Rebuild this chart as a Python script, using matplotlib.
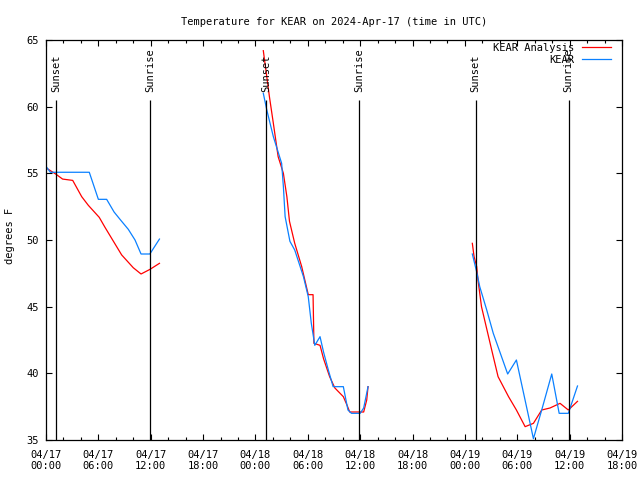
import numpy as np
import matplotlib
matplotlib.use("Agg")
import matplotlib.pyplot as plt
import matplotlib.dates as mdates
import pandas as pd

# hours since 2024-04-17 00:00 UTC; nan breaks the line between nights
analysis_hours = [0.08, 1.15, 1.9, 3.06, 4.09, 4.85, 6.1, 6.76, 8.67, 10.0, 10.89, 11.92, 13.0, np.nan,
                  24.9, 25.6, 26.05, 26.6, 27.2, 27.6, 27.9, 28.5, 29.3, 30.05, 30.6, 30.7, 31.4, 31.8,
                  32.5, 33.1, 34.07, 34.5, 34.8, 35.4, 36.4, 36.75, 36.9, np.nan,
                  48.85, 49.05, 49.35, 49.5, 49.9, 51.07, 51.8, 53.0, 53.9, 54.9, 55.85, 56.8, 57.75,
                  58.9, 59.85, 60.9]
analysis_temp = [55.38, 54.93, 54.57, 54.47, 53.25, 52.6, 51.7, 50.95, 48.88, 47.92, 47.45, 47.8, 48.25, np.nan,
                 64.2, 60.75, 58.75, 56.25, 55.0, 53.25, 51.4, 49.75, 48.0, 45.9, 45.9, 42.25, 42.1, 41.1,
                 39.75, 38.9, 38.25, 37.6, 37.1, 37.1, 37.1, 38.0, 39.0, np.nan,
                 49.75, 48.75, 48.0, 47.0, 45.0, 41.75, 39.75, 38.25, 37.25, 36.0, 36.25, 37.25, 37.4,
                 37.75, 37.25, 37.9]

obs_hours = [0.08, 0.5, 4.96, 6.0, 6.95, 7.8, 8.48, 9.43, 10.2, 10.89, 11.9, 13.0, np.nan,
             24.9, 25.3, 26.05, 27.0, 27.2, 27.4, 27.95, 28.5, 29.5, 30.05, 30.4, 30.8, 31.4, 31.8,
             32.35, 32.9, 34.07, 34.4, 34.6, 35.0, 36.0, 36.4, 36.9, np.nan,
             48.85, 49.35, 49.7, 50.5, 51.25, 52.9, 53.9, 55.85, 56.8, 57.95, 58.8, 59.85, 60.9]
obs_temp = [55.45, 55.08, 55.08, 53.05, 53.05, 52.1, 51.55, 50.8, 50.0, 48.95, 48.95, 50.07, np.nan,
            61.0, 59.75, 57.75, 55.75, 54.0, 51.75, 49.9, 49.25, 47.25, 45.75, 43.75, 42.1, 42.75, 41.6,
            40.25, 39.0, 39.0, 37.9, 37.25, 37.0, 37.0, 37.4, 39.0, np.nan,
            48.95, 47.6, 46.5, 44.75, 43.0, 39.95, 41.0, 35.1, 37.25, 39.95, 37.0, 37.0, 39.05]

event_hours = [1.2, 11.93, 25.22, 35.9, 49.23, 59.88]
event_names = ["Sunset", "Sunrise", "Sunset", "Sunrise", "Sunset", "Sunrise"]

FONT = "DejaVu Sans Mono"
FS = 7.5
plt.rcParams['font.family'] = FONT

base = mdates.date2num(pd.Timestamp("2024-04-17").to_pydatetime())

def to_dates(hours):
    return base + np.asarray(hours, dtype=float) / 24.0

fig = plt.figure(figsize=(6.4, 4.8), dpi=100)
ax = fig.add_axes([46 / 640, 40 / 480, 576 / 640, 400 / 480])

ax.plot(to_dates(analysis_hours), analysis_temp, color="#ff0000", lw=0.9, label="KEAR Analysis")
ax.plot(to_dates(obs_hours), obs_temp, color="#0a80ff", lw=0.9, label="KEAR")

for h, name in zip(event_hours, event_names):
    x = to_dates([h])[0]
    ax.vlines(x, 35, 60.5, color="black", lw=0.9)
    ax.text(x, 61.1, name, rotation=90, ha="center", va="bottom", fontsize=FS)

ax.set_xlim(base, base + 66 / 24)
ax.set_ylim(35, 65)
ax.set_yticks(np.arange(35, 66, 5))
ax.xaxis.set_major_locator(mdates.HourLocator(byhour=range(0, 24, 6)))
ax.xaxis.set_minor_locator(mdates.HourLocator(byhour=range(0, 24, 2)))
ax.xaxis.set_major_formatter(mdates.DateFormatter("%m/%d\n%H:%M"))
ax.tick_params(which="both", direction="in", top=True, right=True, labelsize=FS, width=0.8)
ax.tick_params(which="major", length=4.5)
ax.tick_params(which="minor", length=2.5)
ax.tick_params(axis="x", pad=7)
ax.tick_params(axis="y", pad=5)
for s in ax.spines.values():
    s.set_linewidth(0.9)

ax.set_title("Temperature for KEAR on 2024-Apr-17 (time in UTC)", fontsize=FS, pad=11)
fig.text(10 / 640, 1 - 236 / 480, "degrees F", rotation=90, ha="center", va="center", fontsize=FS)

ax.legend(loc="upper right", bbox_to_anchor=(1 - 11 / 576, 1 - 3 / 400), frameon=False,
          markerfirst=False, fontsize=FS, handlelength=2.8, handletextpad=0.7,
          labelspacing=0.15, borderpad=0, borderaxespad=0)

fig.savefig("out.png", dpi=100)
